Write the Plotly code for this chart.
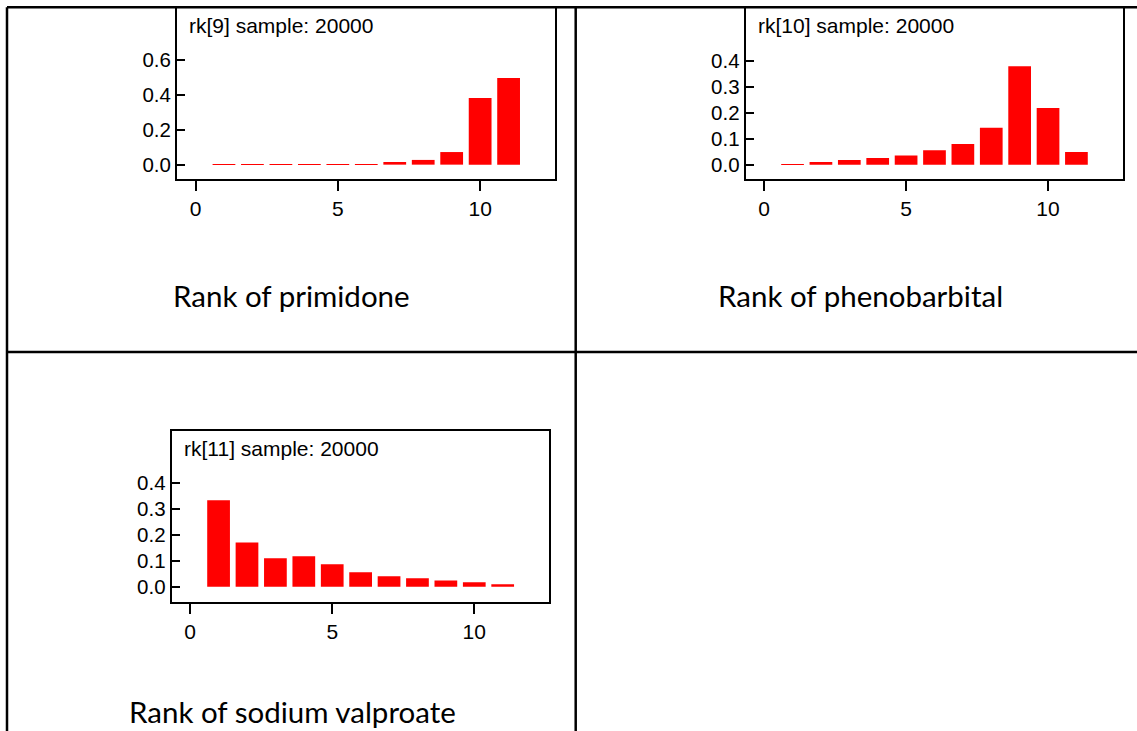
import plotly.graph_objects as go

W, H = 1137, 731

ranks = list(range(1, 12))
rk9 = [0.001, 0.001, 0.001, 0.001, 0.001, 0.002, 0.015, 0.027, 0.072, 0.381, 0.495]
rk10 = [0.002, 0.010, 0.018, 0.026, 0.035, 0.056, 0.080, 0.142, 0.379, 0.218, 0.049]
rk11 = [0.332, 0.170, 0.109, 0.117, 0.086, 0.055, 0.040, 0.032, 0.024, 0.017, 0.009]

panel_labels = ["rk[9] sample: 20000", "rk[10] sample: 20000", "rk[11] sample: 20000"]
titles = ["Rank of primidone", "Rank of phenobarbital", "Rank of sodium valproate"]
x_ticks = [0, 5, 10]

def px_x(p):
    return p / W

def px_y(p):
    return 1 - p / H

# panel frames in pixels: (left, right, top, bottom)
frames = [(177, 555, 8, 179), (745.7, 1122.7, 8, 179), (171.7, 549, 431, 601.7)]
yranges = [[-0.082, 0.895], [-0.055, 0.603], [-0.058, 0.599]]
yticks = [[0, 0.2, 0.4, 0.6], [0, 0.1, 0.2, 0.3, 0.4], [0, 0.1, 0.2, 0.3, 0.4]]
series = [rk9, rk10, rk11]

fig = go.Figure()
layout = dict(
    width=W, height=H, autosize=False,
    margin=dict(l=0, r=0, t=0, b=0),
    paper_bgcolor="white", plot_bgcolor="white",
    showlegend=False,
    font=dict(family="Liberation Sans, Arial, sans-serif", color="black"),
)

annotations = []
for i, (vals, fr, yr, yt, lab) in enumerate(zip(series, frames, yranges, yticks, panel_labels)):
    n = "" if i == 0 else str(i + 1)
    xa, ya = "x" + n, "y" + n
    fig.add_trace(go.Bar(x=ranks, y=vals, width=0.8, marker=dict(color="#ff0000", line=dict(width=0)),
                         xaxis=xa, yaxis=ya))
    l, r, t, b = fr
    layout["xaxis" + n] = dict(
        domain=[px_x(l), px_x(r)], anchor=ya, range=[-0.65, 12.63],
        tickmode="array", tickvals=x_ticks, ticks="outside", ticklen=10, tickwidth=2,
        tickcolor="black", showline=True, linecolor="black", linewidth=2, mirror=True,
        showgrid=False, zeroline=False, tickfont=dict(size=21), fixedrange=True,
    )
    layout["yaxis" + n] = dict(
        domain=[px_y(b), px_y(t)], anchor=xa, range=yr,
        tickmode="array", tickvals=yt, tickformat=".1f", ticks="inside", ticklen=8, tickwidth=2,
        tickcolor="black", showline=True, linecolor="black", linewidth=2, mirror=True,
        showgrid=False, zeroline=False, tickfont=dict(size=20.5), fixedrange=True,
    )
    annotations.append(dict(
        x=px_x(l + 10), y=px_y(t + 17), xref="paper", yref="paper",
        text=lab, showarrow=False, xanchor="left", yanchor="middle",
        font=dict(size=21, family="Liberation Sans, Arial, sans-serif"),
    ))

title_pos = [(291.5, 295), (860.5, 295), (292, 711)]
for txt, (cx, cy) in zip(titles, title_pos):
    annotations.append(dict(
        x=px_x(cx), y=px_y(cy), xref="paper", yref="paper", text=txt, showarrow=False,
        xanchor="center", yanchor="middle",
        font=dict(size=29.5, family="Lato, Carlito, sans-serif"),
    ))

line = dict(color="black", width=2.5)
shapes = [
    dict(type="line", xref="paper", yref="paper", x0=px_x(7), x1=1, y0=px_y(7.3), y1=px_y(7.3), line=line),
    dict(type="line", xref="paper", yref="paper", x0=px_x(7), x1=1, y0=px_y(352), y1=px_y(352), line=line),
    dict(type="line", xref="paper", yref="paper", x0=px_x(7), x1=px_x(7), y0=px_y(7.3), y1=0, line=line),
    dict(type="line", xref="paper", yref="paper", x0=px_x(575.7), x1=px_x(575.7), y0=px_y(7.3), y1=0, line=line),
]

layout["annotations"] = annotations
layout["shapes"] = shapes
fig.update_layout(**layout)
fig.write_html("out.html")
